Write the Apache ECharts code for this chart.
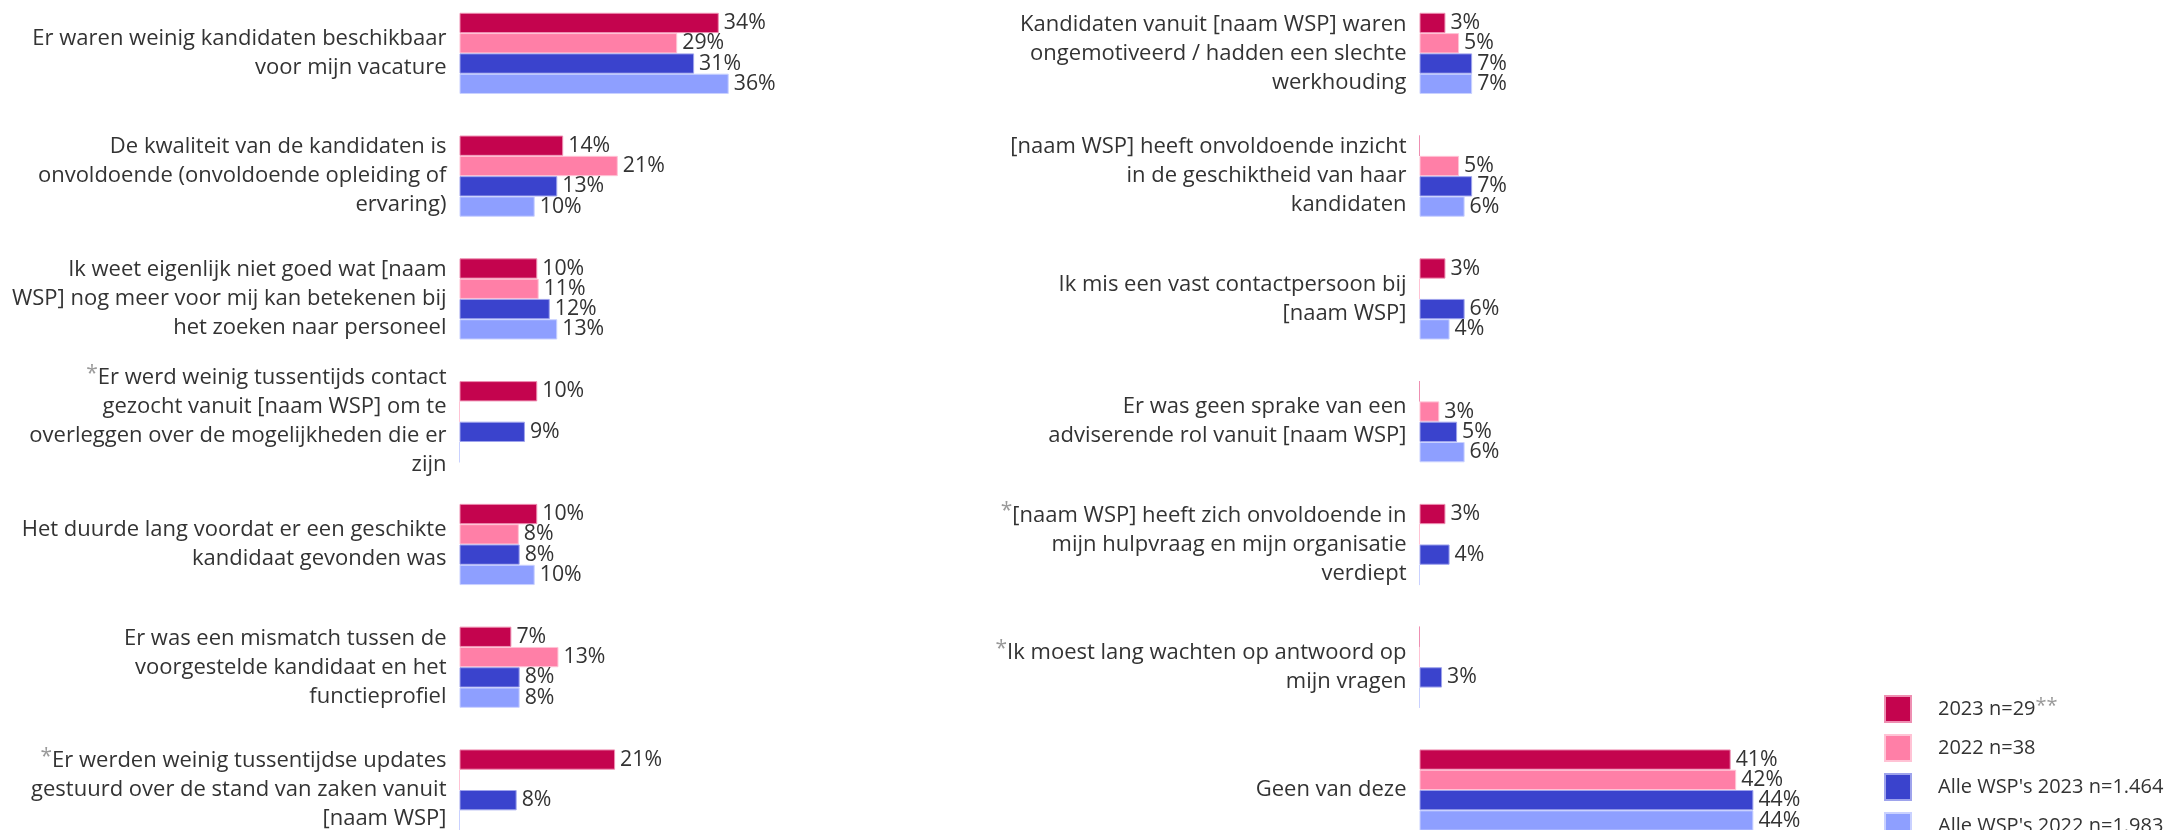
<!DOCTYPE html>
<html>
<head>
<meta charset="utf-8">
<script src="https://cdn.jsdelivr.net/npm/echarts@6/dist/echarts.min.js"></script>
<style>
  html, body { margin: 0; padding: 0; background: #fff; }
  #chart { width: 2167px; height: 830px; }
</style>
</head>
<body>
<div id="chart"></div>
<script>
// ---- Data ----
const seriesNames = ['2023 n=29', '2022 n=38', "Alle WSP's 2023 n=1.464", "Alle WSP's 2022 n=1.983"];

const leftCategories = [
  'Er waren weinig kandidaten beschikbaar\nvoor mijn vacature',
  'De kwaliteit van de kandidaten is\nonvoldoende (onvoldoende opleiding of\nervaring)',
  'Ik weet eigenlijk niet goed wat [naam\nWSP] nog meer voor mij kan betekenen bij\nhet zoeken naar personeel',
  '*Er werd weinig tussentijds contact\ngezocht vanuit [naam WSP] om te\noverleggen over de mogelijkheden die er\nzijn',
  'Het duurde lang voordat er een geschikte\nkandidaat gevonden was',
  'Er was een mismatch tussen de\nvoorgestelde kandidaat en het\nfunctieprofiel',
  '*Er werden weinig tussentijdse updates\ngestuurd over de stand van zaken vanuit\n[naam WSP]'
];
const left2023    = [34.48, 13.79, 10.34, 10.34, 10.34, 6.90, 20.69];
const left2022    = [28.95, 21.05, 10.53, 0, 7.89, 13.16, 0];
const leftAll2023 = [31.2, 13.0, 12.0, 8.7, 8.0, 8.0, 7.6];
const leftAll2022 = [35.8, 10.0, 13.0, 0, 10.0, 8.0, 0];

const rightCategories = [
  'Kandidaten vanuit [naam WSP] waren\nongemotiveerd / hadden een slechte\nwerkhouding',
  '[naam WSP] heeft onvoldoende inzicht\nin de geschiktheid van haar\nkandidaten',
  'Ik mis een vast contactpersoon bij\n[naam WSP]',
  'Er was geen sprake van een\nadviserende rol vanuit [naam WSP]',
  '*[naam WSP] heeft zich onvoldoende in\nmijn hulpvraag en mijn organisatie\nverdiept',
  '*Ik moest lang wachten op antwoord op\nmijn vragen',
  'Geen van deze'
];
const right2023    = [3.45, 0, 3.45, 0, 3.45, 0, 41.38];
const right2022    = [5.26, 5.26, 0, 2.63, 0, 0, 42.11];
const rightAll2023 = [7.0, 7.0, 6.0, 5.0, 4.0, 3.0, 44.4];
const rightAll2022 = [7.0, 6.0, 4.0, 6.0, 0, 0, 44.4];

// ---- Styling ----
const FONT = '"Open Sans", "Noto Sans", sans-serif';
const TEXT = '#333333';
const fills   = ['#C4044E', '#FF7FA7', '#3A43CD', '#8E9FFF'];
const borders = ['#EE8FB2', '#FFC3D5', '#9EA3EC', '#C9D1FF'];

const chart = echarts.init(document.getElementById('chart'), null, { renderer: 'canvas' });

function catFormatter(v) {
  if (v.charAt(0) === '*') return '{ast|*}{t|' + v.slice(1) + '}';
  return '{t|' + v + '}';
}
const catRich = {
  t: { fontFamily: FONT, fontSize: 22, color: TEXT, lineHeight: 29 },
  ast: { fontFamily: FONT, fontSize: 21, color: '#9a9a9a', lineHeight: 22, verticalAlign: 'top' }
};

const GRID_TOP = -8;
const GRID_H = 859.4;
const PX_PER_PCT = 7.52;
const XMAX = 50;

function makeGrid(left) {
  return { left: left, top: GRID_TOP, width: XMAX * PX_PER_PCT, height: GRID_H,
           containLabel: false, outerBoundsMode: 'none' };
}
function makeX(idx) {
  return { gridIndex: idx, type: 'value', min: 0, max: XMAX, show: false, splitLine: { show: false } };
}
function makeY(idx, cats) {
  return {
    gridIndex: idx, type: 'category', data: cats, inverse: true,
    axisLine: { show: false }, axisTick: { show: false }, splitLine: { show: false },
    axisLabel: { margin: 13, align: 'right', formatter: catFormatter, rich: catRich, interval: 0 }
  };
}
function makeSeries(i, idx, data) {
  return {
    name: seriesNames[i], type: 'bar', xAxisIndex: idx, yAxisIndex: idx,
    data: data, barWidth: 20.3, barGap: '0%',
    itemStyle: { color: fills[i], borderColor: borders[i], borderWidth: 1 },
    label: {
      show: true, position: 'right', distance: 5,
      fontFamily: FONT, fontSize: 21.3, color: TEXT,
      formatter: p => (p.value > 0 ? Math.round(p.value) + '%' : '')
    },
    emphasis: { disabled: true },
    animation: false
  };
}

const leftData = [left2023, left2022, leftAll2023, leftAll2022];
const rightData = [right2023, right2022, rightAll2023, rightAll2022];
const series = [];
for (let i = 0; i < 4; i++) series.push(makeSeries(i, 0, leftData[i]));
for (let i = 0; i < 4; i++) series.push(makeSeries(i, 1, rightData[i]));

chart.setOption({
  backgroundColor: '#ffffff',
  animation: false,
  grid: [makeGrid(459.5), makeGrid(1419.5)],
  xAxis: [makeX(0), makeX(1)],
  yAxis: [makeY(0, leftCategories), makeY(1, rightCategories)],
  legend: {
    orient: 'vertical', left: 1884, top: 695, height: 300, padding: 0,
    itemWidth: 26, itemHeight: 26, itemGap: 11,
    icon: 'rect',
    data: seriesNames,
    selectedMode: false,
    formatter: function (name) {
      if (name === seriesNames[0]) return '{n|' + name + '}{ast|**}';
      return '{n|' + name + '}';
    },
    textStyle: {
      fontFamily: FONT, fontSize: 20, color: TEXT, padding: [0, 0, 0, 22],
      rich: {
        n: { fontFamily: FONT, fontSize: 20, color: TEXT, lineHeight: 26 },
        ast: { fontFamily: FONT, fontSize: 20, color: '#9a9a9a', lineHeight: 20, verticalAlign: 'top' }
      }
    }
  },
  series: series
});
</script>
</body>
</html>
